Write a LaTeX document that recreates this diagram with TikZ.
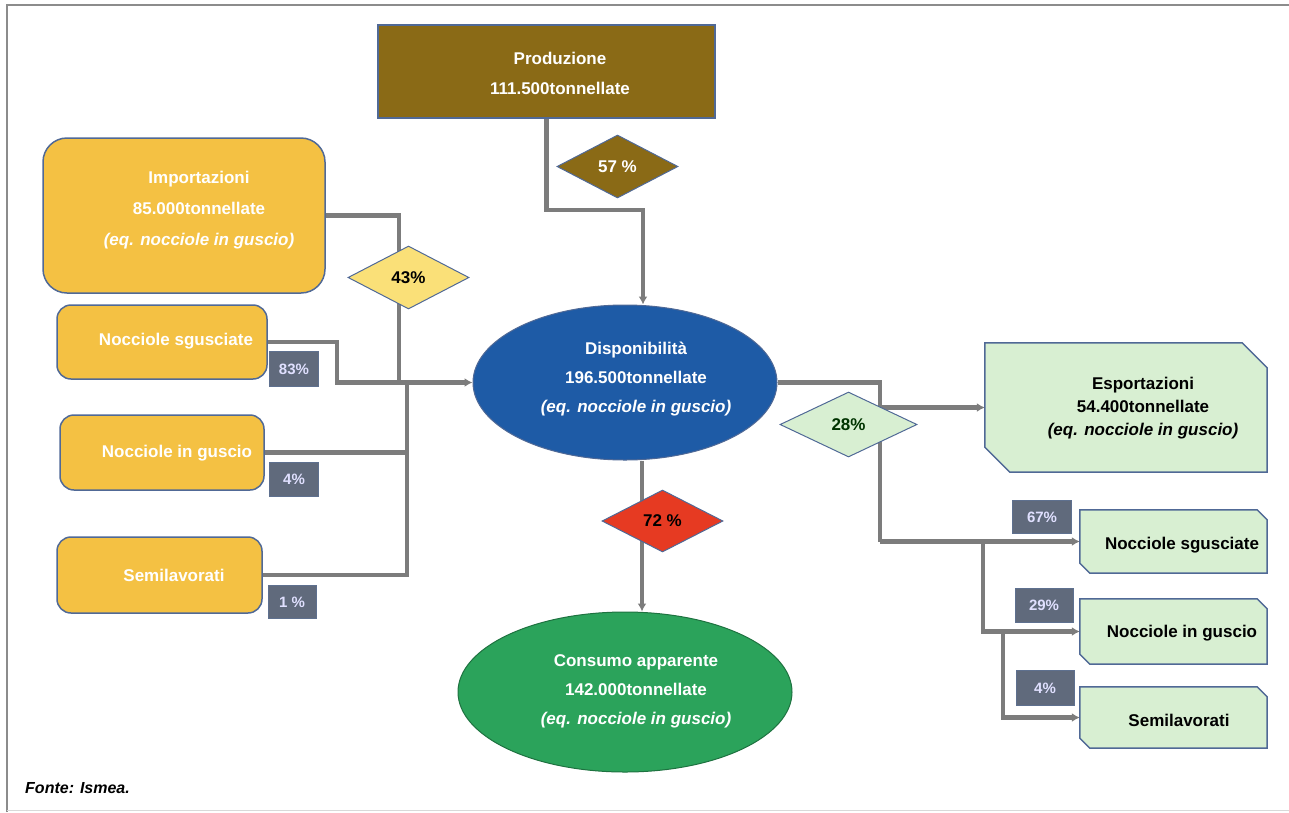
\documentclass[tikz,border=0pt]{standalone}
\usepackage{fontspec}
\setmainfont{Liberation Sans}
\usetikzlibrary{shapes.geometric,arrows.meta,backgrounds}
\definecolor{cOlive}{RGB}{138,106,22}
\definecolor{cGold}{RGB}{244,193,67}
\definecolor{cYel}{RGB}{250,224,120}
\definecolor{cBadge}{RGB}{96,106,124}
\definecolor{cBlue}{RGB}{30,91,166}
\definecolor{cRed}{RGB}{230,58,34}
\definecolor{cGreen}{RGB}{43,163,91}
\definecolor{cLight}{RGB}{216,239,210}
\definecolor{cLine}{RGB}{124,124,124}
\definecolor{cBorder}{RGB}{80,105,150}
\definecolor{cFrame}{RGB}{140,140,140}
\newcommand{\chamf}[2]{%
  \fill[cLight,draw=cBorder,line width=1.5pt]
    (#1.north west) -- ([xshift=-#2]#1.north east) -- ([yshift=-#2]#1.north east)
    -- (#1.south east) -- ([xshift=#2]#1.south west) -- ([yshift=#2]#1.south west) -- cycle;}
\begin{document}
\begin{tikzpicture}[x=1pt,y=-1pt,
  conn/.style={draw=cLine,line width=4.5pt},
  arr/.style={conn,-{Latex[length=8pt,width=9pt]}},
  gbox/.style={rectangle,rounded corners=14pt,fill=cGold,draw=cBorder,line width=1.5pt,inner sep=0pt},
  lbox/.style={rectangle,inner sep=0pt},
  badge/.style={rectangle,fill=cBadge,draw=cBorder!70!gray,line width=1pt,inner sep=0pt,
     text=white!88!blue,font=\fontsize{15}{17}\selectfont\bfseries},
  dia/.style={diamond,draw=cBorder,line width=1pt,inner sep=0pt,aspect=2,
     font=\fontsize{17}{19}\selectfont\bfseries},
  wtxt/.style={text=white,align=center,inner sep=0pt},
  btxt/.style={text=black,align=center,inner sep=0pt}
]
\useasboundingbox (0,0) rectangle (1289,812);

% main boxes
\node[rectangle,fill=cOlive,draw=cBorder,line width=1.5pt,minimum width=337pt,minimum height=93pt] (prod) at (546.5,71.5) {};
\node[wtxt,font=\fontsize{17}{30}\selectfont\bfseries] (prodtxt) at (560,73) {Produzione\\111.500tonnellate};

\node[gbox,rounded corners=24pt,minimum width=282pt,minimum height=155pt] (imp) at (184,215.5) {};
\node[wtxt,font=\fontsize{17}{31}\selectfont\bfseries] (imptxt) at (199,210) {Importazioni\\85.000tonnellate\\\itshape (eq. nocciole in guscio)};

\node[gbox,minimum width=210pt,minimum height=74pt] (nsL) at (162,342) {};
\node[wtxt,font=\fontsize{17}{19}\selectfont\bfseries] (nsLt) at (176,341) {Nocciole sgusciate};
\node[gbox,minimum width=204pt,minimum height=75pt] (ngL) at (162,452.5) {};
\node[wtxt,font=\fontsize{17}{19}\selectfont\bfseries] (ngLt) at (177,453) {Nocciole in guscio};
\node[gbox,minimum width=205pt,minimum height=76pt] (smL) at (159.5,575) {};
\node[wtxt,font=\fontsize{17}{19}\selectfont\bfseries] (smLt) at (174,575) {Semilavorati};

\node[ellipse,fill=cBlue,draw=cBorder,line width=1pt,minimum width=304pt,minimum height=155pt,inner sep=0pt] (disp) at (625,382.5) {};
\node[wtxt,font=\fontsize{17}{29}\selectfont\bfseries] (disptxt) at (636,379) {Disponibilità\\196.500tonnellate\\\itshape (eq. nocciole in guscio)};

\node[ellipse,fill=cGreen,draw=cGreen!70!black,line width=1pt,minimum width=334pt,minimum height=160pt,inner sep=0pt] (con) at (625,692) {};
\node[wtxt,font=\fontsize{17}{29}\selectfont\bfseries] (context) at (636,691) {Consumo apparente\\142.000tonnellate\\\itshape (eq. nocciole in guscio)};

\node[lbox,minimum width=282pt,minimum height=129pt] (exp) at (1126,407.5) {};
\chamf{exp}{25pt}
\node[btxt,font=\fontsize{17}{23}\selectfont\bfseries] (exptxt) at (1143,408) {Esportazioni\\54.400tonnellate\\\itshape (eq. nocciole in guscio)};

\node[lbox,minimum width=187pt,minimum height=63pt] (nsR) at (1173.5,541.5) {};
\chamf{nsR}{10pt}
\node[btxt,font=\fontsize{17}{19}\selectfont\bfseries] (nsRt) at (1182,545) {Nocciole sgusciate};
\node[lbox,minimum width=187pt,minimum height=65pt] (ngR) at (1173.5,631.5) {};
\chamf{ngR}{10pt}
\node[btxt,font=\fontsize{17}{19}\selectfont\bfseries] (ngRt) at (1182,633) {Nocciole in guscio};
\node[lbox,minimum width=187pt,minimum height=61pt] (smR) at (1173.5,717.5) {};
\chamf{smR}{10pt}
\node[btxt,font=\fontsize{17}{19}\selectfont\bfseries] (smRt) at (1179,720) {Semilavorati};

% diamonds
\node[dia,fill=cOlive,text=white,minimum width=121pt,minimum height=63pt] (d57) at (617.5,166.5) {57 \%};
\node[dia,fill=cYel,text=black,minimum width=121pt,minimum height=63pt] (d43) at (408.5,277.5) {43\%};
\node[dia,fill=cRed,text=black,minimum width=121pt,minimum height=62pt] (d72) at (662.5,521) {72 \%};
\node[dia,fill=cLight,text=black!80!green,minimum width=137pt,minimum height=65pt] (d28) at (848.5,424.5) {28\%};

% badges
\node[badge,minimum width=49pt,minimum height=35pt] (b83) at (294,369) {83\%};
\node[badge,minimum width=49pt,minimum height=34pt] (b4L) at (294,479) {4\%};
\node[badge,minimum width=48pt,minimum height=33pt] (b1) at (292,602) {1 \%};
\node[badge,minimum width=59pt,minimum height=33pt] (b67) at (1042,517) {67\%};
\node[badge,minimum width=58pt,minimum height=34pt] (b29) at (1044,605) {29\%};
\node[badge,minimum width=58pt,minimum height=35pt] (b4R) at (1045,688) {4\%};

\node[anchor=west,inner sep=0pt,font=\fontsize{16}{18}\selectfont\bfseries\itshape] (fonte) at (25,788) {Fonte: Ismea.};

\coordinate (jp) at (643,210);
\coordinate (jl1) at (399,215.5);
\coordinate (jl2) at (337,342);
\coordinate (jl3) at (407,382.5);
\coordinate (jr1) at (880,407.5);
\coordinate (jr2) at (880,541.5);
\coordinate (jr3) at (983,541.5);
\coordinate (jr4) at (1003,631.5);

\begin{scope}[on background layer]
  \draw[cFrame,line width=2pt] (7,812) -- (7,5) -- (1289,5);
  \draw[black!15,line width=1.5pt] (7,810.5) -- (1289,810.5);
  % production
  \draw[arr] (prod.south) |- (jp) -- (jp |- disp.north);
  % imports
  \draw[conn] (imp.east) -- (jl1) -- (jl1 |- disp.west);
  \draw[arr] (nsL.east) -- (jl2) |- (disp.west);
  \draw[conn] (ngL.east) -- (ngL.east -| jl3);
  \draw[conn] (smL.east) -| (jl3);
  % consumption
  \draw[arr] ([xshift=17pt]disp.south) -- ([xshift=17pt]con.north);
  % exports
  \draw[conn] (disp.east) -| (jr2);
  \draw[arr] (jr1) -- (exp.west);
  \draw[arr] (jr2) -- (nsR.west);
  \draw[arr] (jr3) |- (ngR.west);
  \draw[arr] (jr4) |- (smR.west);
\end{scope}
\end{tikzpicture}
\end{document}
